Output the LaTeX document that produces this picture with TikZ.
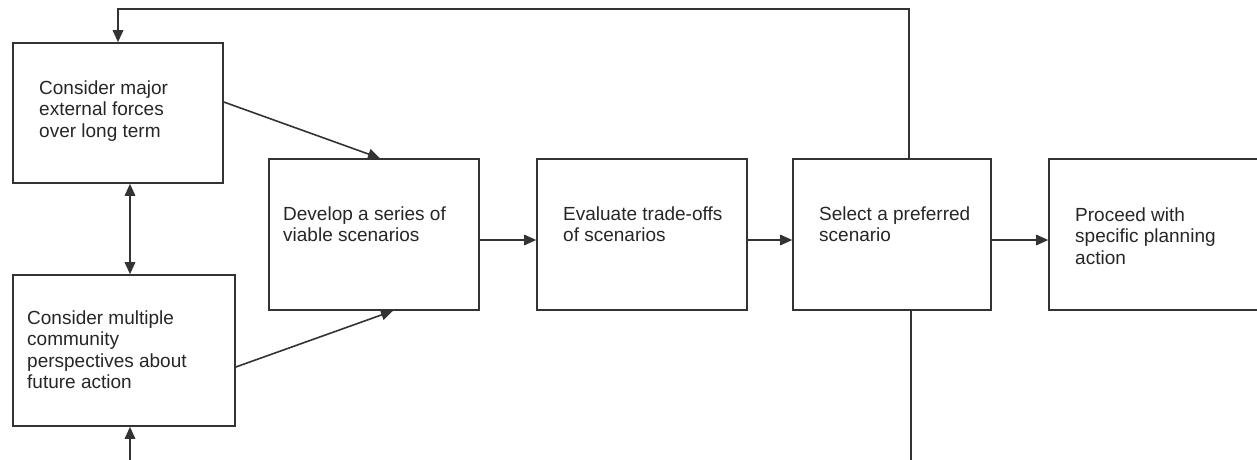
\documentclass[tikz,border=0pt]{standalone}
\usepackage{fontspec}
\setmainfont{Liberation Sans}
\usetikzlibrary{arrows.meta}
\begin{document}
\begin{tikzpicture}[x=1pt,y=-1pt,
  box/.style={draw=black!80, line width=1.6pt, inner sep=0pt, minimum height=151pt},
  txt/.style={inner sep=0pt, align=left, text=black!85, font=\fontsize{19}{21.5}\selectfont, anchor=base west},
  link/.style={draw=black!80, line width=1.6pt},
  arr/.style={link, -{Triangle[length=12pt,width=10.5pt]}},
  arrboth/.style={link, {Triangle[length=12pt,width=10.5pt]}-{Triangle[length=12pt,width=10.5pt]}}]
  \clip (0,0) rectangle (1257,459);

  % process boxes
  \node[box, minimum width=210pt, minimum height=140pt] (a) at (118,113) {};
  \node[box, minimum width=222pt] (b) at (124,350.5) {};
  \node[box, minimum width=210pt] (c) at (374,234.5) {};
  \node[box, minimum width=210pt] (d) at (642,234.5) {};
  \node[box, minimum width=198pt] (e) at (892,234.5) {};
  \node[box, minimum width=221pt] (f) at (1159.5,234.5) {};

  % box texts (anchored at the baseline of their last line)
  \node[txt] (ta) at (39,137) {Consider major\\external forces\\over long term};
  \node[txt] (tb) at (27,388.5) {Consider multiple\\community\\perspectives about\\future action};
  \node[txt] (tc) at (283,241.5) {Develop a series of\\viable scenarios};
  \node[txt] (td) at (563,241.5) {Evaluate trade-offs\\of scenarios};
  \node[txt] (te) at (819,241.5) {Select a preferred\\scenario};
  \node[txt] (tf) at (1075,264) {Proceed with\\specific planning\\action};

  % loose ends of the feedback lines
  \coordinate (top) at (909,9);
  \coordinate (down) at (911,470);
  \coordinate (up) at (130,470);

  % connectors
  \draw[arr] ([xshift=17pt]e.north) |- (a.north |- top) -- (a.north);
  \draw[link] ([xshift=19pt]e.south) -- (down);
  \draw[arrboth] ([xshift=12pt]a.south) -- ([xshift=12pt]a.south |- b.north);
  \draw[arr] (up) -- (up |- b.south);
  \draw[arr] ([yshift=11pt]a.east) -- ([xshift=6pt]c.north);
  \draw[arr] ([yshift=-16.5pt]b.east) -- ([xshift=19pt]c.south);
  \draw[arr] ([yshift=-5.5pt]c.east) -- ([yshift=-5.5pt]d.west);
  \draw[arr] ([yshift=-5.5pt]d.east) -- ([yshift=-5.5pt]e.west);
  \draw[arr] ([yshift=-5.5pt]e.east) -- ([yshift=-5.5pt]f.west);
\end{tikzpicture}
\end{document}
